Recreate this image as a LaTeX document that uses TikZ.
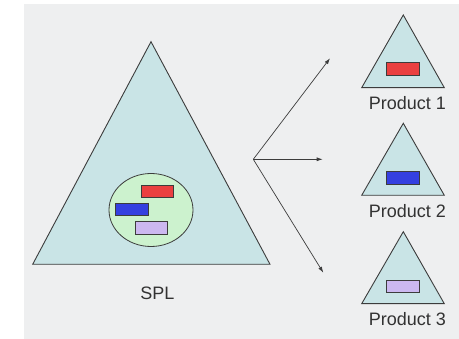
\documentclass[tikz,border=0pt]{standalone}
\usepackage{fontspec}
\setmainfont{Liberation Sans}
\usetikzlibrary{arrows.meta,shapes.geometric}
\definecolor{pagegray}{RGB}{238,239,240}
\definecolor{trifill}{RGB}{201,228,230}
\definecolor{poolfill}{RGB}{204,242,206}
\definecolor{featred}{RGB}{234,64,64}
\definecolor{featblue}{RGB}{52,64,224}
\definecolor{featlilac}{RGB}{204,184,240}
\definecolor{inkgray}{RGB}{60,60,60}
\definecolor{textgray}{RGB}{50,50,50}
\tikzset{
  tri/.style={draw=inkgray, fill=trifill, line width=0.9pt, line join=miter},
  feat/.style={draw=inkgray, line width=0.8pt},
  derive/.style={draw=inkgray, line width=0.7pt, -{Latex[length=6pt,width=4pt]}},
  lbl/.style={text=textgray, font=\fontsize{18}{20}\selectfont, inner sep=0pt}
}
\begin{document}
\begin{tikzpicture}[x=1pt,y=-1pt]
% canvas and backdrop
\useasboundingbox (0,0) rectangle (459,339);
\fill[white] (0,0) rectangle (459,339);
\fill[pagegray] (24,4) rectangle (459,339);

% product line triangle with its feature pool
\path[tri] (151,41.7) -- (270,264.3) -- (32.7,264.3) -- cycle;
\node[draw=inkgray, fill=poolfill, line width=0.8pt, ellipse, minimum width=84pt, minimum height=73pt, inner sep=0pt] (pool) at (151,210) {};
\path[feat, fill=featred] (141,185.7) rectangle (173.3,197.7);
\path[feat, fill=featblue] (115.7,203.7) rectangle (148,215.7);
\path[feat, fill=featlilac] (135,221.3) rectangle (167.3,234.7);
\node[lbl] (spl) at (157.3,293.3) {SPL};

% derivation arrows
\coordinate (fork) at (253.3,159.3);
\coordinate (to1) at (330,58.3);
\coordinate (to2) at (322.7,159.3);
\coordinate (to3) at (323.3,272.7);
\draw[derive] (fork) -- (to1);
\draw[derive] (fork) -- (to2);
\draw[derive] (fork) -- (to3);

% products
\path[tri] (403.3,15) -- (444.3,87.7) -- (361.7,87.7) -- cycle;
\path[feat, fill=featred] (386.7,62.7) rectangle (419.3,75);
\node[lbl] (p1) at (407.3,103.3) {Product 1};

\path[tri] (403.3,123.3) -- (444.3,195.3) -- (361.7,195.3) -- cycle;
\path[feat, fill=featblue] (386.7,171.7) rectangle (419.3,184);
\node[lbl] (p2) at (407.3,211) {Product 2};

\path[tri] (403.3,231.7) -- (444.3,303.7) -- (361.7,303.7) -- cycle;
\path[feat, fill=featlilac] (386.7,280) rectangle (419.3,292.3);
\node[lbl] (p3) at (407.3,319.3) {Product 3};
\end{tikzpicture}
\end{document}
